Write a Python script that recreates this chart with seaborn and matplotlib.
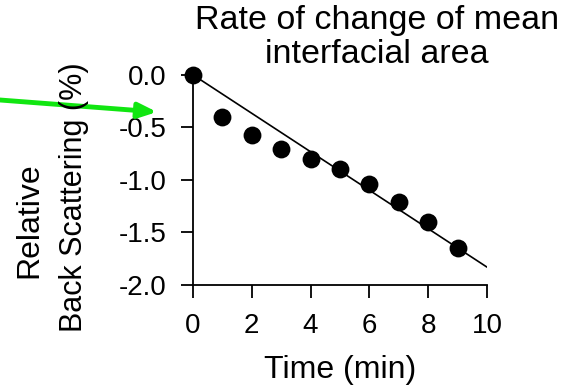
import seaborn as sns
import matplotlib.pyplot as plt
import pandas as pd

# data
time_min = [0, 1, 2, 3, 4, 5, 6, 7, 8, 9]
rel_backscatter = [0.0, -0.40, -0.57, -0.71, -0.80, -0.90, -1.04, -1.21, -1.40, -1.65]
fit_time = [0, 10]
fit_value = [0.0, -1.83]
x_ticks = [0, 2, 4, 6, 8, 10]
y_ticks = [0.0, -0.5, -1.0, -1.5, -2.0]


def plot_rate(df: pd.DataFrame, fit: pd.DataFrame):
    sns.set_style("ticks")
    plt.rcParams['font.family'] = ['Liberation Sans', 'DejaVu Sans']
    plt.rcParams['text.color'] = 'black'
    plt.rcParams['axes.labelcolor'] = 'black'

    fig = plt.figure(figsize=(5.77, 3.92), dpi=100)
    ax = fig.add_axes([0.3345, 0.273, 0.5095, 0.536])

    sns.lineplot(data=fit, x="time", y="value", color="black", linewidth=1.2, ax=ax)
    sns.scatterplot(data=df, x="time", y="value", color="black", s=165,
                    edgecolor="black", linewidth=0, clip_on=False, zorder=3, ax=ax)

    ax.set_xlim(0, 10)
    ax.set_ylim(-2.0, 0.0)
    ax.set_xticks(x_ticks)
    ax.set_yticks(y_ticks)
    ax.set_yticklabels([f"{v:.1f}" for v in y_ticks])
    ax.tick_params(direction="out", length=9, width=1.3, labelsize=20,
                   colors="black")
    ax.tick_params(axis="x", pad=11)
    ax.tick_params(axis="y", pad=10)
    sns.despine(ax=ax)
    for s in ("left", "bottom"):
        ax.spines[s].set_linewidth(1.3)
        ax.spines[s].set_color("black")

    ax.set_xlabel("Time (min)", fontsize=23, labelpad=12)
    ax.set_ylabel("")
    # two-line y label, placed line by line like the reference
    fig.text(29 / 577, 1 - 220 / 392, "Relative", rotation=90,
             ha="center", va="center", fontsize=23)
    fig.text(74 / 577, 1 - 197 / 392, "Back Scattering (%)", rotation=90,
             ha="center", va="center", fontsize=22)
    fig.text(377 / 577, 1 - 5 / 392, "Rate of change of mean\ninterfacial area",
             ha="center", va="top", fontsize=24.5, linespacing=1.12)

    # green pointer arrow
    ax.annotate("", xy=(157 / 577, 1 - 112 / 392), xycoords="figure fraction",
                xytext=(0.0, 1 - 100 / 392), textcoords="figure fraction",
                arrowprops=dict(arrowstyle="-|>,head_length=1.1,head_width=0.45",
                                color="#11e611", lw=3.5, shrinkA=0, shrinkB=0),
                annotation_clip=False)

    fig.savefig("out.png", dpi=100)


df = pd.DataFrame({"time": time_min, "value": rel_backscatter})
fit = pd.DataFrame({"time": fit_time, "value": fit_value})
plot_rate(df, fit)
